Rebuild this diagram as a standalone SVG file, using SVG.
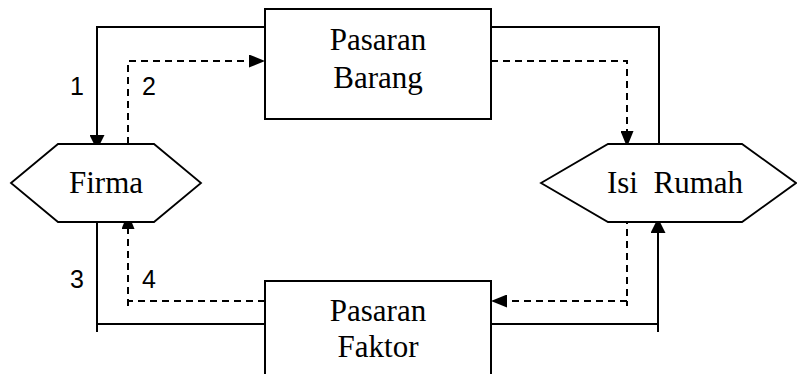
<svg xmlns="http://www.w3.org/2000/svg" width="797" height="374" viewBox="0 0 797 374">
<style>
.box{fill:#fff;stroke:#000;stroke-width:2}
.hex{fill:#fff;stroke:#000;stroke-width:1.8}
.lbl{font-family:'Liberation Serif','Tinos','Times New Roman','DejaVu Serif',serif;font-size:31px;fill:#000;text-anchor:middle}
.num{font-family:'Liberation Sans',Arial,sans-serif;font-size:25px;fill:#000}
.solid{fill:none;stroke:#000;stroke-width:2}
.dash{fill:none;stroke:#000;stroke-width:2;stroke-dasharray:7 5}
</style>
<defs>
<marker id="ah" markerUnits="userSpaceOnUse" markerWidth="15" markerHeight="15" refX="11" refY="7.5" orient="auto" viewBox="0 0 15 15">
<path d="M0,0 L15,7.5 L0,15 Z" fill="#000"/>
</marker>
<marker id="ahd" markerUnits="userSpaceOnUse" markerWidth="16" markerHeight="13" refX="12" refY="6.5" orient="auto" viewBox="0 0 16 13">
<path d="M0,0 L16,6.5 L0,13 Z" fill="#000"/>
</marker>
</defs>
<g id="connectors">
<path class="solid" d="M265,27 H97 V146" marker-end="url(#ah)"/>
<path class="dash" d="M128,144 V61 H261" marker-end="url(#ahd)"/>
<path class="solid" d="M491,27 H659 V151"/>
<path class="dash" d="M491,61 H627 V143" marker-end="url(#ahd)"/>
<path class="solid" d="M97,217 V332 M97,324 H265"/>
<path class="dash" d="M265,301 H128"/>
<path class="dash" d="M128,306 V217" marker-end="url(#ahd)"/>
<path class="dash" d="M627,217 V306"/>
<path class="dash" d="M627,301 H495" marker-end="url(#ahd)"/>
<path class="solid" d="M491,324 H658"/>
<path class="solid" d="M658,332 V222" marker-end="url(#ah)"/>
</g>
<g id="pasaran-barang">
<rect class="box" x="265" y="9" width="226" height="110"/>
<text class="lbl" font-family="Liberation Serif, serif" x="378" y="50">Pasaran</text>
<text class="lbl" font-family="Liberation Serif, serif" x="378" y="88">Barang</text>
</g>
<g id="pasaran-faktor">
<rect class="box" x="265" y="281" width="226" height="110"/>
<text class="lbl" x="378" y="321">Pasaran</text>
<text class="lbl" x="378" y="357">Faktor</text>
</g>
<g id="firma">
<polygon class="hex" points="11,183 58,144 154,144 201,183 154,222 58,222"/>
<text class="lbl" x="106" y="193">Firma</text>
</g>
<g id="isi-rumah">
<polygon class="hex" points="541,183 608,144 742,144 796,183 742,222 608,222"/>
<text class="lbl" x="675" y="193" xml:space="preserve">Isi  Rumah</text>
</g>
<g id="labels">
<text class="num" x="70" y="95">1</text>
<text class="num" x="142" y="95">2</text>
<text class="num" x="70" y="288">3</text>
<text class="num" x="142" y="288">4</text>
</g>
</svg>
